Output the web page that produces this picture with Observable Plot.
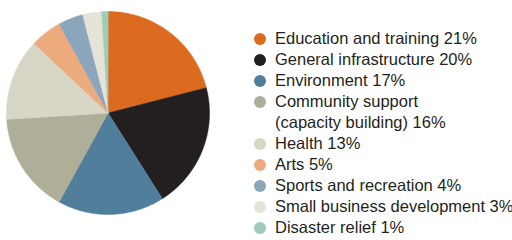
<!DOCTYPE html>
<html>
<head>
<meta charset="utf-8">
<script src="https://cdn.jsdelivr.net/npm/d3@7"></script>
<script src="https://cdn.jsdelivr.net/npm/@observablehq/plot@0.6"></script>
<style>
  html, body { margin: 0; padding: 0; background: #fff; }
  #wrap { position: relative; width: 512px; height: 240px; overflow: hidden; }
  #chart { position: absolute; left: 0; top: 0; }
  #legend { position: absolute; left: 254px; top: 28px; font-family: "Liberation Sans", sans-serif; font-size: 16.5px; line-height: 21px; color: #231f20; }
  .item { position: relative; padding-left: 21px; white-space: nowrap; }
  .sw { position: absolute; left: 0; top: 4.5px; width: 12px; height: 12px; border-radius: 50%; }
</style>
</head>
<body>
<div id="wrap"><div id="chart"></div><div id="legend"></div></div>
<script>
const categories = ["Education and training", "General infrastructure", "Environment", "Community support (capacity building)", "Health", "Arts", "Sports and recreation", "Small business development", "Disaster relief"];
const labels = ["Education and training 21%", "General infrastructure 20%", "Environment 17%", "Community support<br>(capacity building) 16%", "Health 13%", "Arts 5%", "Sports and recreation 4%", "Small business development 3%", "Disaster relief 1%"];
const values = [21, 20, 17, 16, 13, 5, 4, 3, 1];
const colors = ["#dc6b1f", "#231f20", "#517e9a", "#aeae99", "#d8d6c6", "#edaa7c", "#8ba6bb", "#e5e3d8", "#9dccb8"];

const arcs = d3.pie().sort(null).value(d => d)(values);
const pts = [];
arcs.forEach((a, i) => {
  const cat = categories[i];
  pts.push({cat, x: 0, y: 0});
  const n = Math.max(2, Math.ceil((a.endAngle - a.startAngle) / 0.01));
  for (let k = 0; k <= n; k++) {
    const t = a.startAngle + (a.endAngle - a.startAngle) * k / n;
    pts.push({cat, x: Math.sin(t), y: Math.cos(t)});
  }
});

const chart = Plot.plot({
  width: 230, height: 240,
  marginLeft: 6, marginRight: 21, marginTop: 11, marginBottom: 26,
  x: {domain: [-1, 1], axis: null},
  y: {domain: [-1, 1], axis: null},
  color: {type: "ordinal", domain: categories, range: colors},
  marks: [
    Plot.line(pts, {x: "x", y: "y", z: "cat", fill: "cat", stroke: "cat", strokeWidth: 0.5, curve: "linear-closed"})
  ]
});
document.getElementById("chart").appendChild(chart);

const legend = document.getElementById("legend");
categories.forEach((c, i) => {
  const div = document.createElement("div");
  div.className = "item";
  div.innerHTML = `<span class="sw" style="background:${colors[i]}"></span>${labels[i]}`;
  legend.appendChild(div);
});
</script>
</body>
</html>
